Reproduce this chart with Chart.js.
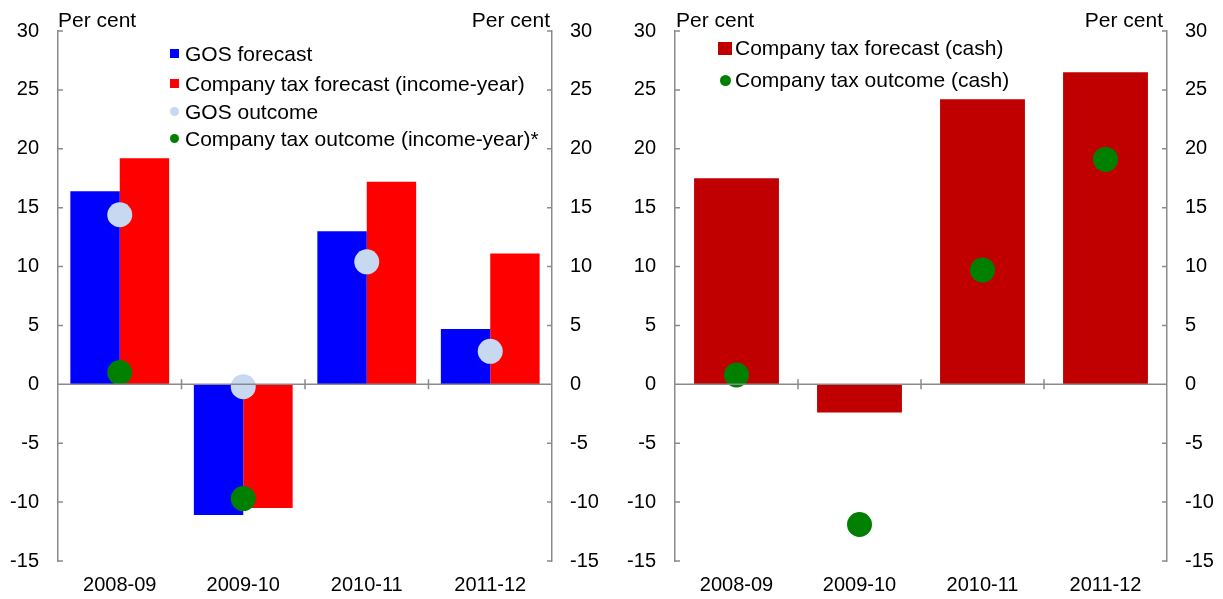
<!DOCTYPE html>
<html>
<head>
<meta charset="utf-8">
<script src="https://cdn.jsdelivr.net/npm/chart.js@4/dist/chart.umd.min.js"></script>
<style>
  html, body { margin: 0; padding: 0; background: #fff; }
  #wrap { position: relative; width: 1223px; height: 599px; font-family: 'Liberation Sans', Arial, sans-serif; font-size: 21px; color: #000; }
  .pane { position: absolute; top: 0; height: 599px; }
  .lbl { position: absolute; line-height: 20px; white-space: nowrap; }
  .sq { position: absolute; }
  .dot { position: absolute; border-radius: 50%; }
</style>
</head>
<body>
<div id="wrap">
  <div class="pane" style="left:0;width:612px;"><canvas id="c1"></canvas></div>
  <div class="pane" style="left:612px;width:611px;"><canvas id="c2"></canvas></div>

  <div class="lbl" style="left:58px;top:10px;">Per cent</div>
  <div class="lbl" style="right:673px;top:10px;">Per cent</div>
  <div class="lbl" style="left:676px;top:10px;">Per cent</div>
  <div class="lbl" style="right:60px;top:10px;">Per cent</div>

  <!-- left legend -->
  <div class="sq" style="left:170px;top:49px;width:9px;height:9px;background:#0000FF;"></div>
  <div class="lbl" id="lg1" style="left:185px;top:44px;"></div>
  <div class="sq" style="left:170px;top:79px;width:9px;height:9px;background:#FF0000;"></div>
  <div class="lbl" id="lg2" style="left:185px;top:74px;"></div>
  <div class="dot" style="left:170px;top:107px;width:9px;height:9px;background:#C6D9F0;"></div>
  <div class="lbl" id="lg3" style="left:185px;top:102px;"></div>
  <div class="dot" style="left:170px;top:134px;width:9px;height:9px;background:#008000;"></div>
  <div class="lbl" id="lg4" style="left:185px;top:129px;"></div>

  <!-- right legend -->
  <div class="sq" style="left:718px;top:42px;width:14px;height:13px;background:#C00000;"></div>
  <div class="lbl" id="lg5" style="left:735px;top:38px;"></div>
  <div class="dot" style="left:720px;top:75px;width:11px;height:11px;background:#008000;"></div>
  <div class="lbl" id="lg6" style="left:735px;top:70px;"></div>
</div>
<script>
// ---- data ----
const categories = ['2008-09', '2009-10', '2010-11', '2011-12'];
const gosForecast = [16.4, -11.1, 13.0, 4.7];
const taxForecastIncomeYear = [19.2, -10.5, 17.2, 11.1];
const gosOutcome = [14.4, -0.2, 10.4, 2.8];
const taxOutcomeIncomeYear = [1.0, -9.7, null, null];
const taxForecastCash = [17.5, -2.4, 24.2, 26.5];
const taxOutcomeCash = [0.8, -11.9, 9.7, 19.1];
const yMin = -15, yMax = 30, yStep = 5;

const names = {
  gosF: 'GOS forecast',
  taxF: 'Company tax forecast (income-year)',
  gosO: 'GOS outcome',
  taxO: 'Company tax outcome (income-year)*',
  cashF: 'Company tax forecast (cash)',
  cashO: 'Company tax outcome (cash)'
};
document.getElementById('lg1').textContent = names.gosF;
document.getElementById('lg2').textContent = names.taxF;
document.getElementById('lg3').textContent = names.gosO;
document.getElementById('lg4').textContent = names.taxO;
document.getElementById('lg5').textContent = names.cashF;
document.getElementById('lg6').textContent = names.cashO;

const AXIS = '#8a8a8a';
const FONT = { family: "'Liberation Sans', Arial, sans-serif", size: 20 };

const axisPlugin = {
  id: 'axisDecor',
  afterDatasetsDraw(chart) {
    const ctx = chart.ctx;
    const a = chart.chartArea;
    const y = chart.scales.y;
    ctx.save();
    ctx.strokeStyle = AXIS;
    ctx.lineWidth = 1.5;
    const y0 = y.getPixelForValue(0);
    ctx.beginPath();
    ctx.moveTo(a.left, y0); ctx.lineTo(a.right, y0);
    const n = categories.length;
    const w = (a.right - a.left) / n;
    for (let i = 1; i < n; i++) {
      const xx = a.left + i * w;
      ctx.moveTo(xx, y0 - 5); ctx.lineTo(xx, y0 + 5);
    }
    for (let v = yMin; v <= yMax; v += yStep) {
      const yy = y.getPixelForValue(v);
      ctx.moveTo(a.left, yy); ctx.lineTo(a.left + 5, yy);
      ctx.moveTo(a.right, yy); ctx.lineTo(a.right - 5, yy);
    }
    ctx.stroke();
    ctx.restore();
  }
};

function yAxis(pos, width, pad) {
  return {
    position: pos,
    min: yMin, max: yMax,
    ticks: { stepSize: yStep, color: '#000', font: FONT, padding: pad },
    grid: { display: false, drawTicks: false },
    border: { display: true, color: AXIS, width: 1.5 },
    afterFit(s) { s.width = width; }
  };
}

function makeChart(id, datasets, leftW, rightW, catPct) {
  return new Chart(document.getElementById(id), {
    type: 'bar',
    data: { labels: categories, datasets },
    options: {
      responsive: true,
      maintainAspectRatio: false,
      animation: false,
      layout: { padding: { top: 31, left: 0, right: 0, bottom: 0 } },
      datasets: { bar: { categoryPercentage: catPct, barPercentage: 1.0 } },
      plugins: { legend: { display: false }, tooltip: { enabled: false } },
      scales: {
        x: {
          ticks: { color: '#000', font: FONT, padding: 12 },
          grid: { display: false, drawTicks: false },
          border: { display: false },
          afterFit(s) { s.height = 38; }
        },
        y: yAxis('left', leftW, 19),
        y2: yAxis('right', rightW, 18)
      }
    },
    plugins: [axisPlugin]
  });
}

function pointSet(label, data, color, order) {
  return {
    type: 'line', label, data, yAxisID: 'y', order,
    showLine: false, pointRadius: 12.5, pointHoverRadius: 12.5,
    pointBackgroundColor: color, pointBorderWidth: 0, borderColor: color, backgroundColor: color
  };
}

makeChart('c1', [
  { label: names.gosF, data: gosForecast, backgroundColor: '#0000FF', yAxisID: 'y', order: 3 },
  { label: names.taxF, data: taxForecastIncomeYear, backgroundColor: '#FF0000', yAxisID: 'y', order: 3 },
  pointSet(names.gosO, gosOutcome, '#C6D9F0', 2),
  pointSet(names.taxO, taxOutcomeIncomeYear, '#008000', 1)
], 58, 60, 0.8);

makeChart('c2', [
  { label: names.cashF, data: taxForecastCash, backgroundColor: '#C00000', yAxisID: 'y', order: 3 },
  pointSet(names.cashO, taxOutcomeCash, '#008000', 1)
], 63, 56, 0.69);
</script>
</body>
</html>
